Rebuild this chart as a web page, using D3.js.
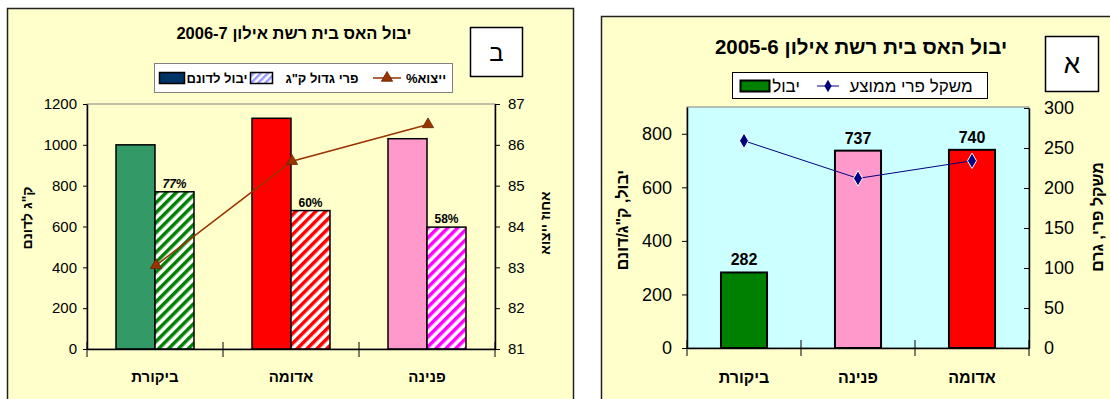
<!DOCTYPE html>
<html><head><meta charset="utf-8">
<script src="https://cdn.jsdelivr.net/npm/d3@7"></script>
<style>
body{margin:0;background:#fff;}
svg{display:block;font-family:"Liberation Sans",Arial,sans-serif;}
</style></head>
<body><svg id="c" width="1110" height="399"></svg>
<script>
// ---------- data: chart ב (2006-7) ----------
const titleB = "יבול האס בית רשת אילון 2006-7";
const letterB = "ב";
const catsB = ["ביקורת", "אדומה", "פנינה"];
const yieldB = [1000, 1130, 1030];          // יבול לדונם
const largeB = [770, 678, 597];             // פרי גדול ק"ג
const largePctB = ["77%", "60%", "58%"];
const exportB = [83.05, 85.6, 86.5];        // ייצוא%
const yTicksB = [0, 200, 400, 600, 800, 1000, 1200];
const y2TicksB = [81, 82, 83, 84, 85, 86, 87];
const legendB = ["ייצוא%", "פרי גדול ק\"ג", "יבול לדונם"];
const yTitleB = "ק\"ג לדונם";
const y2TitleB = "אחוז ייצוא";

// ---------- data: chart א (2005-6) ----------
const titleA = "יבול האס בית רשת אילון 2005-6";
const letterA = "א";
const catsA = ["ביקורת", "פנינה", "אדומה"];
const yieldA = [282, 737, 740];             // יבול
const weightA = [259, 212, 234];            // משקל פרי ממוצע
const yTicksA = [0, 200, 400, 600, 800];
const y2TicksA = [0, 50, 100, 150, 200, 250, 300];
const legendA = ["משקל פרי ממוצע", "יבול"];
const yTitleA = "יבול, ק\"ג/דונם";
const y2TitleA = "משקל פרי, גרם";

// ---------- styles ----------
const solidColB = ["#339966", "#FF0000", "#FF99CC"];
const hatchColB = ["#008000", "#FF0000", "#FF00FF"];
const colA = ["#008000", "#FF99CC", "#FF0000"];
const fmt = d3.format("d");

const svg = d3.select("#c");
const defs = svg.append("defs");
function hatch(id, col, w) {
  const p = defs.append("pattern").attr("id", id).attr("patternUnits", "userSpaceOnUse")
    .attr("width", w).attr("height", w).attr("patternTransform", "rotate(45)");
  p.append("rect").attr("width", w).attr("height", w).attr("fill", "#fff");
  p.append("rect").attr("width", w * 0.5).attr("height", w).attr("fill", col);
}
hatchColB.forEach((c, i) => hatch("h" + i, c, 7));
hatch("hleg", "#9999FF", 5);

// panels
svg.append("rect").attr("x", 7.5).attr("y", 8.5).attr("width", 566).attr("height", 420)
  .attr("fill", "#FFFFCC").attr("stroke", "#222").attr("stroke-width", 1.5);
svg.append("rect").attr("x", 601.5).attr("y", 16.5).attr("width", 540).attr("height", 420)
  .attr("fill", "#FFFFCC").attr("stroke", "#222").attr("stroke-width", 1.5);

// ================= chart ב =================
const gB = svg.append("g");
const xB = d3.scaleBand().domain(catsB).range([87, 495]);
const inB = d3.scaleBand().domain(["y", "l"]).range([29, 107]);
const yB = d3.scaleLinear().domain([0, 1200]).range([349, 104]);
const y2B = d3.scaleLinear().domain([81, 87]).range([349, 104]);

gB.append("rect").attr("x", 87).attr("y", 104).attr("width", 408).attr("height", 245)
  .attr("fill", "none").attr("stroke", "#808080");

gB.selectAll(".bs").data(catsB).join("rect")
  .attr("x", (d) => xB(d) + inB("y")).attr("width", inB.bandwidth())
  .attr("y", (d, i) => yB(yieldB[i])).attr("height", (d, i) => yB(0) - yB(yieldB[i]))
  .attr("fill", (d, i) => solidColB[i]).attr("stroke", "#000").attr("stroke-width", 1.5);
gB.selectAll(".bh").data(catsB).join("rect")
  .attr("x", (d) => xB(d) + inB("l")).attr("width", inB.bandwidth())
  .attr("y", (d, i) => yB(largeB[i])).attr("height", (d, i) => yB(0) - yB(largeB[i]))
  .attr("fill", (d, i) => `url(#h${i})`).attr("stroke", "#000").attr("stroke-width", 1.5);
gB.selectAll(".bl").data(catsB).join("text")
  .attr("x", (d) => xB(d) + inB("l") + inB.bandwidth() / 2)
  .attr("y", (d, i) => yB(largeB[i]) - 4)
  .attr("text-anchor", "middle").attr("font-size", 12).attr("font-weight", "bold")
  .attr("font-style", (d, i) => i === 0 ? "italic" : "normal")
  .text((d, i) => largePctB[i]);

// axes
const axLB = gB.append("g").attr("transform", "translate(87,0)")
  .call(d3.axisLeft(yB).tickValues(yTicksB).tickFormat(fmt).tickSize(4).tickSizeOuter(0).tickPadding(6));
const axRB = gB.append("g").attr("transform", "translate(495,0)")
  .call(d3.axisRight(y2B).tickValues(y2TicksB).tickFormat(fmt).tickSize(5).tickSizeOuter(0).tickPadding(8));
[axLB, axRB].forEach((a) => {
  a.attr("font-size", 15).attr("font-family", "Liberation Sans, Arial");
  a.selectAll("text").attr("font-size", 15).attr("fill", "#000");
  a.select(".domain").attr("stroke", "#000").attr("stroke-width", 1.5);
  a.selectAll(".tick line").attr("stroke", "#000");
});
const axXB = gB.append("g").attr("transform", "translate(0,349)")
  .call(d3.axisBottom(xB).tickSize(0).tickSizeOuter(0).tickPadding(22));
axXB.attr("font-size", 15).attr("font-family", "Liberation Sans, Arial");
axXB.select(".domain").attr("stroke", "#000").attr("stroke-width", 1.5);
axXB.selectAll("text").attr("font-size", 15).attr("font-weight", "bold").attr("fill", "#000");
gB.selectAll(".xt").data([xB.range()[0], ...catsB.slice(1).map((c) => xB(c)), xB.range()[1]]).join("line")
  .attr("x1", (d) => d).attr("x2", (d) => d).attr("y1", 342).attr("y2", 357)
  .attr("stroke", "#000").attr("stroke-width", 1);

// line
const lineB = d3.line().x((d, i) => xB(catsB[i]) + xB.bandwidth() / 2 + 1).y((d) => y2B(d));
gB.append("path").attr("d", lineB(exportB)).attr("fill", "none").attr("stroke", "#993300").attr("stroke-width", 1.5);
const tri = d3.symbol().type(d3.symbolTriangle).size(55);
gB.selectAll(".tr").data(exportB).join("path").attr("d", tri)
  .attr("transform", (d, i) => `translate(${xB(catsB[i]) + xB.bandwidth() / 2 + 1},${y2B(d)})`)
  .attr("fill", "#993300").attr("stroke", "#662200").attr("stroke-width", 0.8);

// titles
gB.append("text").attr("x", 294).attr("y", 39).attr("text-anchor", "middle").attr("direction", "rtl")
  .attr("font-size", 16.5).attr("font-weight", "bold").text(titleB);
gB.append("rect").attr("x", 470.5).attr("y", 27.5).attr("width", 52).attr("height", 49)
  .attr("fill", "#fff").attr("stroke", "#000").attr("stroke-width", 1.5);
gB.append("text").attr("x", 496.5).attr("y", 61).attr("text-anchor", "middle").attr("font-size", 24).text(letterB);
gB.append("text").attr("transform", "translate(32,218) rotate(-90)").attr("text-anchor", "middle")
  .attr("direction", "rtl").attr("font-size", 14).attr("font-weight", "bold").text(yTitleB);
gB.append("text").attr("transform", "translate(550,223) rotate(-90)").attr("text-anchor", "middle")
  .attr("direction", "rtl").attr("font-size", 14).attr("font-weight", "bold").text(y2TitleB);

// legend ב
const lgB = gB.append("g");
lgB.append("rect").attr("x", 154.5).attr("y", 63.5).attr("width", 298).attr("height", 29)
  .attr("fill", "#fff").attr("stroke", "#808080");
lgB.append("rect").attr("x", 159.5).attr("y", 72.5).attr("width", 25).attr("height", 11)
  .attr("fill", "#003366").attr("stroke", "#000").attr("stroke-width", 1.5);
lgB.append("rect").attr("x", 250.5).attr("y", 72.5).attr("width", 22).attr("height", 11)
  .attr("fill", "url(#hleg)").attr("stroke", "#000").attr("stroke-width", 1.5);
lgB.append("line").attr("x1", 373).attr("x2", 401).attr("y1", 78).attr("y2", 78)
  .attr("stroke", "#993300").attr("stroke-width", 1.5);
lgB.append("path").attr("d", tri).attr("transform", "translate(387,78)")
  .attr("fill", "#993300").attr("stroke", "#662200").attr("stroke-width", 0.8);
const lgBx = [426, 322, 217];
lgB.selectAll(".lt").data(legendB).join("text").attr("x", (d, i) => lgBx[i]).attr("y", 83)
  .attr("text-anchor", "middle").attr("direction", "rtl").attr("font-size", 13).attr("font-weight", "bold")
  .text((d) => d);

// ================= chart א =================
const gA = svg.append("g");
const xA = d3.scaleBand().domain(catsA).range([687, 1029]).paddingInner(0.596).paddingOuter(0.298);
const xAc = d3.scaleBand().domain(catsA).range([687, 1029]);
const yA = d3.scaleLinear().domain([0, 900]).range([348, 107]);
const y2A = d3.scaleLinear().domain([0, 300]).range([348, 108]);

gA.append("rect").attr("x", 687).attr("y", 107).attr("width", 342).attr("height", 241)
  .attr("fill", "#CCFFFF").attr("stroke", "#808080");
gA.selectAll(".ba").data(catsA).join("rect")
  .attr("x", (d) => xA(d)).attr("width", xA.bandwidth())
  .attr("y", (d, i) => yA(yieldA[i])).attr("height", (d, i) => yA(0) - yA(yieldA[i]))
  .attr("fill", (d, i) => colA[i]).attr("stroke", "#000").attr("stroke-width", 2);
gA.selectAll(".la").data(catsA).join("text")
  .attr("x", (d) => xA(d) + xA.bandwidth() / 2).attr("y", (d, i) => yA(yieldA[i]) - 7)
  .attr("text-anchor", "middle").attr("font-size", 16).attr("font-weight", "bold")
  .text((d, i) => yieldA[i]);

const axLA = gA.append("g").attr("transform", "translate(687,0)")
  .call(d3.axisLeft(yA).tickValues(yTicksA).tickFormat(fmt).tickSize(5).tickSizeOuter(0).tickPadding(10));
const axRA = gA.append("g").attr("transform", "translate(1029,0)")
  .call(d3.axisRight(y2A).tickValues(y2TicksA).tickFormat(fmt).tickSize(-5).tickSizeOuter(0).tickPadding(15));
[axLA, axRA].forEach((a) => {
  a.attr("font-size", 18).attr("font-family", "Liberation Sans, Arial");
  a.selectAll("text").attr("font-size", 18).attr("fill", "#000");
  a.select(".domain").attr("stroke", "#000").attr("stroke-width", 1.5);
  a.selectAll(".tick line").attr("stroke", "#000");
});
const axXA = gA.append("g").attr("transform", "translate(0,348)")
  .call(d3.axisBottom(xAc).tickSize(0).tickSizeOuter(0).tickPadding(24));
axXA.attr("font-size", 16).attr("font-family", "Liberation Sans, Arial");
axXA.select(".domain").attr("stroke", "#000").attr("stroke-width", 1.5);
axXA.selectAll("text").attr("font-size", 16).attr("font-weight", "bold").attr("fill", "#000");
gA.selectAll(".xta").data([xAc.range()[0], ...catsA.slice(1).map((c) => xAc(c)), xAc.range()[1]]).join("line")
  .attr("x1", (d) => d).attr("x2", (d) => d).attr("y1", 340).attr("y2", 356)
  .attr("stroke", "#000").attr("stroke-width", 1);

const lineA = d3.line().x((d, i) => xAc(catsA[i]) + xAc.bandwidth() / 2).y((d) => y2A(d));
gA.append("path").attr("d", lineA(weightA)).attr("fill", "none").attr("stroke", "#000080").attr("stroke-width", 1);
const dia = d3.symbol().type(d3.symbolDiamond).size(70);
gA.selectAll(".dm").data(weightA).join("path").attr("d", dia)
  .attr("transform", (d, i) => `translate(${xAc(catsA[i]) + xAc.bandwidth() / 2},${y2A(d)})`)
  .attr("fill", "#000080").attr("stroke", "#fff").attr("stroke-width", 1);

gA.append("text").attr("x", 861).attr("y", 54).attr("text-anchor", "middle").attr("direction", "rtl")
  .attr("font-size", 20.5).attr("font-weight", "bold").text(titleA);
gA.append("rect").attr("x", 1045.5).attr("y", 36.5).attr("width", 53).attr("height", 55)
  .attr("fill", "#fff").attr("stroke", "#000").attr("stroke-width", 1.5);
gA.append("text").attr("x", 1072).attr("y", 73).attr("text-anchor", "middle").attr("font-size", 26).text(letterA);
gA.append("text").attr("transform", "translate(628,220) rotate(-90)").attr("text-anchor", "middle")
  .attr("direction", "rtl").attr("font-size", 16).attr("font-weight", "bold").text(yTitleA);
gA.append("text").attr("transform", "translate(1103,217) rotate(-90)").attr("text-anchor", "middle")
  .attr("direction", "rtl").attr("font-size", 16).attr("font-weight", "bold").text(y2TitleA);

// legend א
const lgA = gA.append("g");
lgA.append("rect").attr("x", 732.5).attr("y", 72.5).attr("width", 255).attr("height", 26)
  .attr("fill", "#fff").attr("stroke", "#000");
lgA.append("rect").attr("x", 740.5).attr("y", 80.5).attr("width", 29).attr("height", 11)
  .attr("fill", "#008000").attr("stroke", "#000").attr("stroke-width", 2);
lgA.append("line").attr("x1", 817).attr("x2", 839).attr("y1", 86).attr("y2", 86)
  .attr("stroke", "#000080").attr("stroke-width", 1);
lgA.append("path").attr("d", d3.symbol().type(d3.symbolDiamond).size(45)).attr("transform", "translate(828,86)")
  .attr("fill", "#000080");
const lgAx = [911, 786];
lgA.selectAll(".lt").data(legendA).join("text").attr("x", (d, i) => lgAx[i]).attr("y", 92)
  .attr("text-anchor", "middle").attr("direction", "rtl").attr("font-size", 17)
  .text((d) => d);
</script></body></html>
